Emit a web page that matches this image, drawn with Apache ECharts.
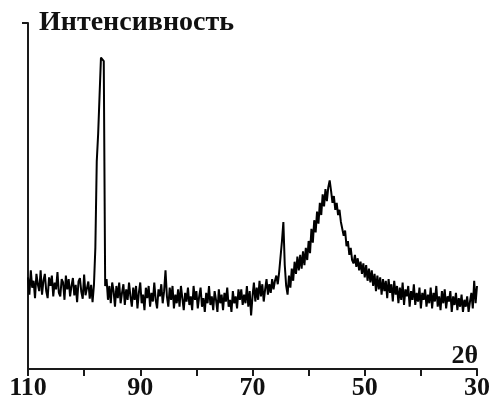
<!DOCTYPE html>
<html>
<head>
<meta charset="utf-8">
<script src="https://cdn.jsdelivr.net/npm/echarts@6/dist/echarts.min.js"></script>
<style>html,body{margin:0;padding:0;background:#fff;}#c{width:493px;height:401px;}</style>
</head>
<body>
<div id="c"></div>
<script>
// 2θ grid: starts at 110°, step 0.25° towards 30°
const angleStart = 110;
const angleStep = 0.25;
// Intensity (arbitrary units, 0 = x axis, 100 = top tick)
const intensity = [
  26.5,21.5,28.5,23.5,25.5,20.5,27.5,24.5,
  22.5,28.5,21.5,25.5,27.5,22.5,20.5,26.5,
  24,27,21,25,23,28,22,21,
  26,25,20,27,23,26,21,24,
  26.3,21.3,24.3,19.3,25.3,26.3,22.3,20.3,
  27.3,21.3,23.3,25.3,20.3,24.3,19.3,24.3,
  35,60,68,79,90,89.5,89,24,
  26,20,24,19,25,22.5,18,24,
  20.5,25,19,22,24.5,18.5,23,20,
  25,21,18,23.5,20,24,17.5,22,
  25,19,21.5,17,23.5,20.5,24,18,
  22,19.5,25,20,17.5,23,21,24.5,
  19,22.5,28.5,21,18,23.5,20,24,
  17.5,21.5,19,23,18,24,20.5,17,
  22,19.5,23.5,18.5,21,17,24,20,
  22.5,17.5,21,23.5,18,20.5,16.5,22,
  19,24,18.5,21,17,22.5,20,16.5,
  23,19,21.5,17,22,19.5,23.5,18,
  20,16.5,22.5,19,21,17.5,23,20,
  23,18.5,21.5,19,24,18,22.5,15.5,
  21,25,19.5,23.5,20,25.5,21,24.5,
  19.5,23,26,21.5,24.5,22,26,23,
  25.5,27,24.5,28,27.5,37,42.5,30,
  24,21.5,27,23.5,29,25.5,31,27.5,
  32.5,28.5,33,29,34,30,35,31.5,
  37,33.5,40.5,36.5,43,39.5,45.5,42,
  48,44.5,50.5,47,52,48.5,52.5,54.5,
  51.5,48,50,46,48,44.5,46,42.5,
  43,38.5,40,35.5,37,33,35,31.5,
  30.5,33,29.5,32,28.5,31,27.5,30.5,
  26.5,30,25.5,29,25,28.5,24,27.5,
  22.5,27,23,26.5,21.5,26,22.5,25.5,
  20.5,26,22,24.5,19.5,25.5,21.5,24,
  19,23.5,20,25,18.5,23,21,24,
  18,22.5,20,24.5,18.5,22,19.5,23.5,
  17.5,22,20,23,18,21.5,19,23.5,
  17.5,22,19.5,24,18,21,17,22.5,
  19,23,17.5,21,19.5,22.5,16.5,21,
  18.5,22,17,20.5,18,21.5,16.5,20,
  18,21,16.5,19.5,22,17.5,25.5,19,
  24
];
const xTickLabels = [110, 90, 70, 50, 30];
const yTickValues = [100];
const yTitle = 'Интенсивность';
const xTitle = '2θ';

const seriesData = intensity.map((v, i) => [angleStart - angleStep * i, v]);

const chart = echarts.init(document.getElementById('c'), null, {renderer: 'canvas'});
const serif = '"Liberation Serif", "DejaVu Serif", serif';
chart.setOption({
  animation: false,
  backgroundColor: '#fff',
  title: [
    {text: yTitle, left: 39, top: 9, padding: 0,
     textStyle: {fontFamily: serif, fontWeight: 'bold', fontSize: 28, color: '#111'}},
    {text: xTitle, right: 15, top: 343, padding: 0,
     textStyle: {fontFamily: serif, fontWeight: 'bold', fontSize: 26, color: '#111'}}
  ],
  grid: {left: 28, right: 16, top: 23, bottom: 31, containLabel: false},
  xAxis: {
    type: 'value', inverse: true, min: 30, max: 110, interval: 10,
    axisLine: {show: true, onZero: false, lineStyle: {color: '#1a1a1a', width: 2}},
    axisTick: {show: true, inside: false, length: 7, lineStyle: {color: '#1a1a1a', width: 2}},
    axisLabel: {show: true, customValues: xTickLabels, margin: 6,
      fontFamily: serif, fontWeight: 'bold', fontSize: 26, color: '#111'},
    splitLine: {show: false}
  },
  yAxis: {
    type: 'value', min: 0, max: 100, interval: 100,
    axisLine: {show: true, onZero: false, lineStyle: {color: '#1a1a1a', width: 2}},
    axisTick: {show: true, inside: false, length: 6, customValues: yTickValues,
      lineStyle: {color: '#1a1a1a', width: 2}},
    axisLabel: {show: false},
    splitLine: {show: false}
  },
  series: [{
    type: 'line', data: seriesData, showSymbol: false, symbol: 'none',
    lineStyle: {color: '#000', width: 2}, silent: true
  }]
});
</script>
</body>
</html>
